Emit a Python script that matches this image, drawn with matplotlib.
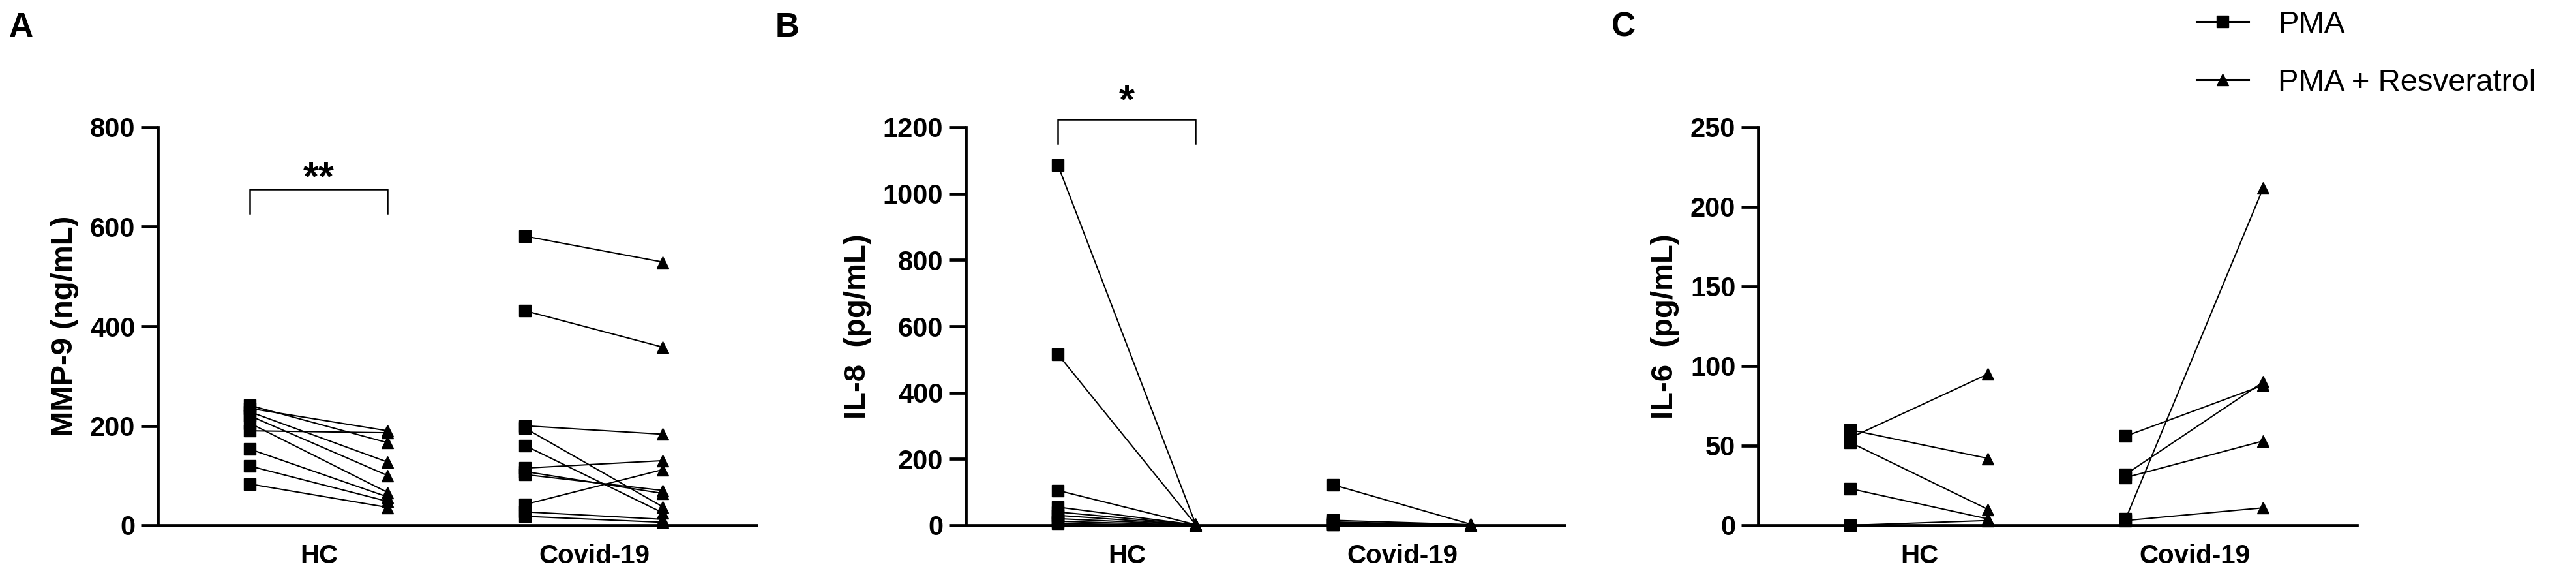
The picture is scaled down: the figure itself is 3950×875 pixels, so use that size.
'''
Before/after plots of MMP-9, IL-8 and IL-6 release with PMA vs PMA + Resveratrol
'''

import numpy as np
from matplotlib import pyplot as plt
from matplotlib.lines import Line2D

plt.rcParams['font.family'] = ['Liberation Sans', 'DejaVu Sans']

groups = ['HC', 'Covid-19']
series = ['PMA', 'PMA + Resveratrol']

# MMP-9 (ng/mL)
mmp9_hc_pma = [241, 235, 228, 220, 205, 190, 153, 119, 83]
mmp9_hc_res = [166, 190, 127, 100, 66, 186, 57, 48, 36]
mmp9_cov_pma = [581, 431, 200, 195, 160, 115, 108, 102, 42, 27, 18]
mmp9_cov_res = [529, 358, 183, 37, 25, 130, 64, 70, 112, 12, 6]

# IL-8 (pg/mL)
il8_hc_pma = [1085, 515, 105, 55, 40, 30, 20, 12, 5]
il8_hc_res = [3, 2, 2, 1, 2, 1, 1, 0, 0]
il8_cov_pma = [122, 15, 10, 6, 4, 2, 1]
il8_cov_res = [3, 2, 1, 1, 1, 0, 0]

# IL-6 (pg/mL)
il6_hc_pma = [55, 60, 52, 23, 0]
il6_hc_res = [95, 42, 10, 4, 3]
il6_cov_pma = [56, 32, 30, 4, 3]
il6_cov_res = [88, 90, 53, 212, 11]

AXIS_LW = 3.4
MS = 13


def draw_pairs(ax, x0, before, after):
    for a, b in zip(before, after):
        ax.plot([x0, x0 + 1], [a, b], color='black', lw=1.5, zorder=2, clip_on=False)
    ax.plot([x0] * len(before), before, 's', ms=MS, color='black', zorder=3, clip_on=False)
    ax.plot([x0 + 1] * len(after), after, '^', ms=MS, color='black', zorder=3, clip_on=False)


def draw_panel(ax, hc_pma, hc_res, cov_pma, cov_res, ymax, ystep, ylabel):
    draw_pairs(ax, 0, hc_pma, hc_res)
    draw_pairs(ax, 2, cov_pma, cov_res)

    ax.set_xlim(-0.67, 3.68)
    ax.set_ylim(0, ymax)
    ax.set_yticks(np.arange(0, ymax + 1, ystep))
    ax.set_xticks([0.5, 2.5])
    ax.set_xticklabels(groups, fontsize=29, fontweight='bold')

    for side in ['top', 'right']:
        ax.spines[side].set_visible(False)
    for side in ['left', 'bottom']:
        ax.spines[side].set_linewidth(AXIS_LW)

    ax.tick_params(axis='y', length=19, width=AXIS_LW, pad=6, labelsize=30)
    ax.tick_params(axis='x', length=0, pad=20)
    for lab in ax.get_yticklabels():
        lab.set_fontweight('bold')
    ax.set_ylabel(ylabel, fontsize=34, fontweight='bold', labelpad=12)


def bracket(ax, x0, x1, y_leg, y_top, stars, y_star):
    ax.plot([x0, x0, x1, x1], [y_leg, y_top, y_top, y_leg], color='black', lw=1.8, clip_on=False)
    ax.text((x0 + x1) / 2, y_star, stars, ha='center', va='baseline',
            fontsize=44, fontweight='bold', clip_on=False)


def main():
    fig = plt.figure(figsize=(39.5, 8.75), dpi=100)

    W, H = 3950.0, 875.0
    bottom = (H - 805) / H
    height = (805 - 195) / H
    width = 918 / W
    lefts = [242, 1481, 2696]

    ax_a = fig.add_axes([lefts[0] / W, bottom, width, height])
    ax_b = fig.add_axes([lefts[1] / W, bottom, width, height])
    ax_c = fig.add_axes([lefts[2] / W, bottom, width, height])

    draw_panel(ax_a, mmp9_hc_pma, mmp9_hc_res, mmp9_cov_pma, mmp9_cov_res, 800, 200, 'MMP-9 (ng/mL)')
    draw_panel(ax_b, il8_hc_pma, il8_hc_res, il8_cov_pma, il8_cov_res, 1200, 200, 'IL-8  (pg/mL)')
    draw_panel(ax_c, il6_hc_pma, il6_hc_res, il6_cov_pma, il6_cov_res, 250, 50, 'IL-6  (pg/mL)')

    bracket(ax_a, 0, 1, 627, 675, '**', 675)
    bracket(ax_b, 0, 1, 1150, 1224, '*', 1245)

    # panel letters
    for x, letter in zip([14, 1189, 2471], ['A', 'B', 'C']):
        fig.text(x / W, 1 - 18 / H, letter, ha='left', va='top', fontsize=37, fontweight='bold')

    # legend
    handles = [Line2D([], [], color='black', lw=2.2, marker='s', ms=MS),
               Line2D([], [], color='black', lw=2.2, marker='^', ms=MS)]
    fig.legend(handles, series, loc='upper left', bbox_to_anchor=(3368 / W, 1 - 16 / H),
               frameon=False, fontsize=34, handlelength=1.7, handletextpad=0.95,
               labelspacing=0.95, borderaxespad=0, borderpad=0)

    fig.savefig('out.png', dpi=100)


if __name__ == "__main__":
    main()
